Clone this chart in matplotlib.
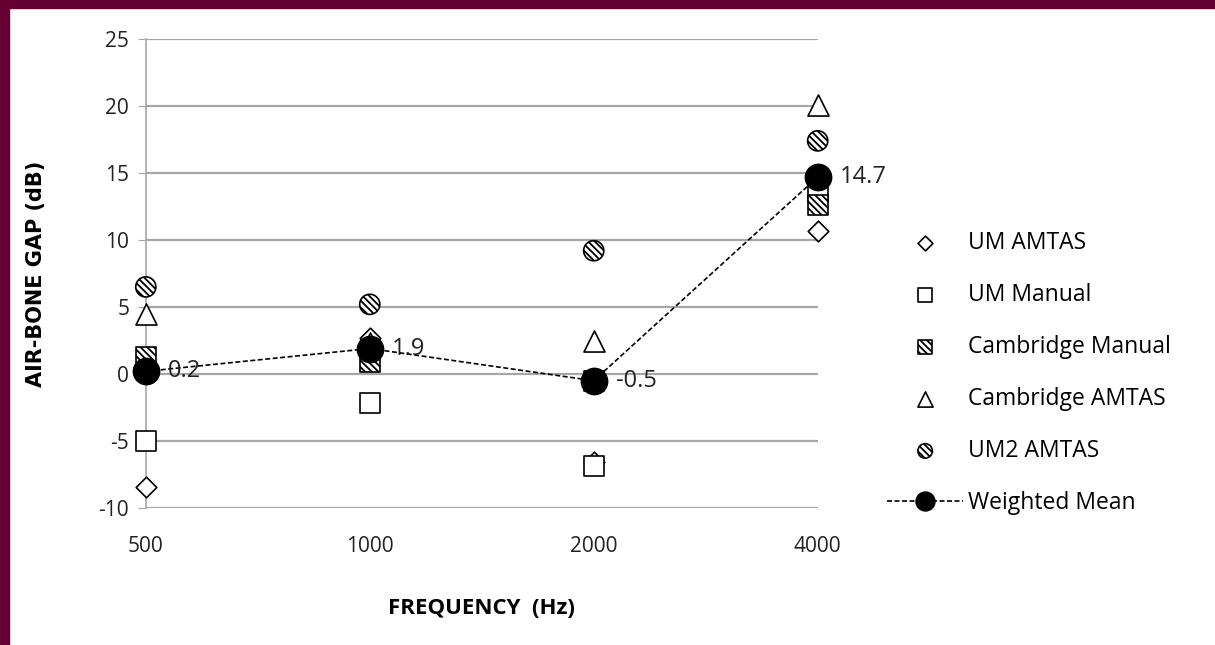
import matplotlib
matplotlib.use("Agg")
import matplotlib.pyplot as plt
from matplotlib.patches import Rectangle

# frequencies (categorical x axis)
freqs = ['500', '1000', '2000', '4000']

um_amtas = [-8.4, 2.7, -6.6, 10.7]
um_manual = [-5.0, -2.2, -6.9, 13.6]
cambridge_manual = [1.3, 0.9, -0.5, 12.6]
cambridge_amtas = [4.5, 2.3, 2.5, 20.1]
um2_amtas = [6.5, 5.2, 9.2, 17.4]
weighted_mean = [0.2, 1.9, -0.5, 14.7]
mean_labels = ['0.2', '1.9', '-0.5', '14.7']

plt.rcParams['font.family'] = ['Open Sans', 'DejaVu Sans']
plt.rcParams['hatch.linewidth'] = 1.3
plt.rcParams['axes.unicode_minus'] = False

fig = plt.figure(figsize=(12.15, 6.45), dpi=100)
fig.patch.set_facecolor('white')

# maroon frame on the top and left edges
fig.add_artist(Rectangle((0, 0), 9 / 1215, 1, transform=fig.transFigure,
                         color='#660033', zorder=10))
fig.add_artist(Rectangle((0, 1 - 8 / 645), 1, 8 / 645, transform=fig.transFigure,
                         color='#660033', zorder=10))

ax = fig.add_axes([0.120, 0.2124, 0.553, 0.7271])
x = list(range(len(freqs)))

hatch = '\\\\\\\\\\'
common = dict(edgecolor='black', linewidths=1.2, zorder=3, clip_on=False)
ax.scatter(x, um_amtas, marker='D', s=110, facecolor='white', label='UM AMTAS', **common)
ax.scatter(x, um_manual, marker='s', s=200, facecolor='white', label='UM Manual', **common)
ax.scatter(x, cambridge_manual, marker='s', s=200, facecolor='white', hatch=hatch,
           label='Cambridge Manual', **common)
ax.scatter(x, cambridge_amtas, marker='^', s=230, facecolor='white', label='Cambridge AMTAS', **common)
ax.scatter(x, um2_amtas, marker='o', s=210, facecolor='white', hatch=hatch,
           label='UM2 AMTAS', **common)
ax.plot(x, weighted_mean, color='black', linestyle=(0, (3, 1.5)), linewidth=1.2,
        marker='o', markersize=19, markerfacecolor='black', markeredgecolor='black',
        label='Weighted Mean', zorder=5, clip_on=False)

for xi, yi, lab in zip(x, weighted_mean, mean_labels):
    ax.annotate(lab, (xi, yi), xytext=(16, 0), textcoords='offset points',
                va='center', ha='left', fontsize=17, color='#222222', zorder=6)

ax.set_xlim(0, 3)
ax.set_ylim(-10, 25)
ax.set_yticks(range(-10, 26, 5))
ax.set_xticks(x)
ax.set_xticklabels(freqs)
ax.grid(axis='y', color='#a6a6a6', linewidth=1.6)
ax.set_axisbelow(True)
for side in ['top', 'right', 'bottom']:
    ax.spines[side].set_visible(False)
ax.spines['left'].set_color('#a6a6a6')
ax.spines['left'].set_linewidth(1.2)
ax.tick_params(axis='y', length=6, color='#a6a6a6', labelsize=15, pad=6, labelcolor='#222222')
ax.tick_params(axis='x', length=0, labelsize=15, pad=20, labelcolor='#222222')

ax.set_xlabel('FREQUENCY  (Hz)', fontsize=16, fontweight='bold', labelpad=30)
ax.set_ylabel('AIR-BONE GAP (dB)', fontsize=15, fontweight='bold', labelpad=38,
              family='DejaVu Sans')

leg = ax.legend(loc='upper left', bbox_to_anchor=(1.09, 0.61), frameon=False,
                fontsize=16.5, labelspacing=1.22, handlelength=3.3, handletextpad=0.2,
                markerscale=0.72, borderaxespad=0)

fig.savefig('out.png', dpi=100)
